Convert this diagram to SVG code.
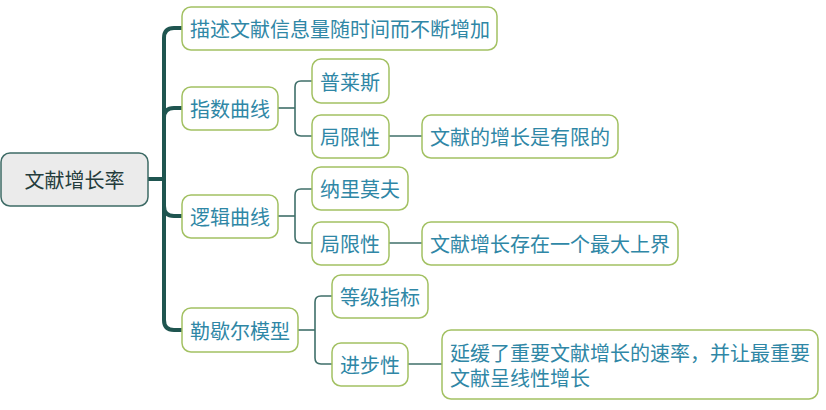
<svg xmlns="http://www.w3.org/2000/svg" width="826" height="410" viewBox="0 0 826 410">
<style>
.n{fill:#fff;stroke:#a3c163;stroke-width:1.5}
.r{fill:#ebebeb;stroke:#3e6b66;stroke-width:1.5}
.t{font-family:"Noto Sans CJK SC","Liberation Sans",sans-serif;font-size:20px;fill:#2f87a6;dominant-baseline:central}
.rt{font-family:"Noto Sans CJK SC","Liberation Sans",sans-serif;font-size:20px;fill:#243c3c;dominant-baseline:central;text-anchor:middle}
.m{fill:none;stroke:#1f5550;stroke-width:4;stroke-linecap:round}
.s{fill:none;stroke:#3f6f6a;stroke-width:1.6}
</style>
<rect width="826" height="410" fill="#fff"/>
<g id="connectors">
<path class="m" d="M148 179 H164"/>
<path class="m" d="M182 28 H174 Q164 28 164 38 V320 Q164 330 174 330 H182"/>
<path class="m" d="M164 118 Q164 108 174 108 H182"/>
<path class="m" d="M164 206 Q164 216 174 216 H182"/>
<path class="s" d="M278 108 H295"/>
<path class="s" d="M312 81 H301 Q295 81 295 87 V130 Q295 136 301 136 H312"/>
<path class="s" d="M389 136 H422"/>
<path class="s" d="M278 216 H295"/>
<path class="s" d="M312 189 H301 Q295 189 295 195 V237 Q295 243 301 243 H312"/>
<path class="s" d="M389 243 H422"/>
<path class="s" d="M298 330 H315"/>
<path class="s" d="M332 296 H321 Q315 296 315 302 V358 Q315 364 321 364 H332"/>
<path class="s" d="M408 364 H442"/>
</g>
<g id="root"><rect class="r" x="1" y="153" width="147" height="53" rx="9"/><text class="rt" x="74.5" y="179.5">文献增长率</text></g>
<g id="n1"><rect class="n" x="182" y="7" width="315" height="43" rx="9"/><text class="t" x="190" y="28.5">描述文献信息量随时间而不断增加</text></g>
<g id="n2"><rect class="n" x="182" y="87" width="96" height="43" rx="9"/><text class="t" x="190" y="108.5">指数曲线</text></g>
<g id="n3"><rect class="n" x="182" y="195" width="96" height="43" rx="9"/><text class="t" x="190" y="216.5">逻辑曲线</text></g>
<g id="n4"><rect class="n" x="182" y="308" width="116" height="44" rx="9"/><text class="t" x="190" y="330">勒歇尔模型</text></g>
<g id="n5"><rect class="n" x="312" y="59" width="77" height="44" rx="9"/><text class="t" x="320" y="81">普莱斯</text></g>
<g id="n6"><rect class="n" x="312" y="115" width="77" height="43" rx="9"/><text class="t" x="320" y="136.5">局限性</text></g>
<g id="n7"><rect class="n" x="422" y="115" width="196" height="43" rx="9"/><text class="t" x="430" y="136.5">文献的增长是有限的</text></g>
<g id="n8"><rect class="n" x="312" y="167" width="96" height="43" rx="9"/><text class="t" x="320" y="188.5">纳里莫夫</text></g>
<g id="n9"><rect class="n" x="312" y="222" width="77" height="43" rx="9"/><text class="t" x="320" y="243.5">局限性</text></g>
<g id="n10"><rect class="n" x="422" y="222" width="256" height="43" rx="9"/><text class="t" x="430" y="243.5">文献增长存在一个最大上界</text></g>
<g id="n11"><rect class="n" x="332" y="275" width="96" height="43" rx="9"/><text class="t" x="340" y="296.5">等级指标</text></g>
<g id="n12"><rect class="n" x="332" y="343" width="76" height="43" rx="9"/><text class="t" x="340" y="364.5">进步性</text></g>
<g id="n13"><rect class="n" x="442" y="330" width="376" height="69" rx="9"/><text class="t" x="450" y="352">延缓了重要文献增长的速率，并让最重要</text><text class="t" x="450" y="377">文献呈线性增长</text></g>
</svg>
